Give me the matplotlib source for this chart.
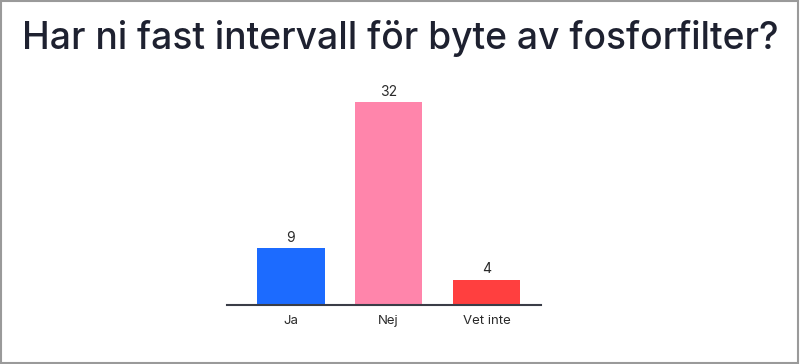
import matplotlib
matplotlib.use("Agg")
import matplotlib.pyplot as plt
from matplotlib.patches import Rectangle

categories = ["Ja", "Nej", "Vet inte"]
values = [9, 32, 4]
colors = ["#1c6bff", "#ff85ab", "#ff3f3f"]
title = "Har ni fast intervall för byte av fosforfilter?"

plt.rcParams['font.family'] = ['Inter', 'DejaVu Sans']

fig = plt.figure(figsize=(8, 3.64), dpi=100)
fig.patch.set_facecolor("white")
ax = fig.add_axes([0.284, 0.162, 0.3925, 0.5907])

x = range(len(categories))
bars = ax.bar(x, values, width=0.69, color=colors)
for b, v in zip(bars, values):
    ax.text(b.get_x() + b.get_width() / 2, v + 0.5, str(v), ha="center", va="bottom",
            fontsize=10, color="#2a2a2a")

ax.set_xlim(-0.65, 2.56)
ax.set_ylim(0, 33.9)
ax.set_xticks(list(x))
ax.set_xticklabels(categories, fontsize=9.5, color="#2a2a2a")
ax.tick_params(axis="x", length=0, pad=7)
ax.set_yticks([])
for s in ["top", "right", "left"]:
    ax.spines[s].set_visible(False)
ax.spines["bottom"].set_color("#3a3d47")
ax.spines["bottom"].set_linewidth(1.5)

fig.text(0.5, 0.893, title, ha="center", va="center", fontsize=26.8,
         fontweight="medium", color="#1e2130")

fig.add_artist(Rectangle((0.001, 0.002), 0.997, 0.995, transform=fig.transFigure,
                         fill=False, edgecolor="#9a9a9a", linewidth=1.5))

fig.savefig("out.png", dpi=100)
